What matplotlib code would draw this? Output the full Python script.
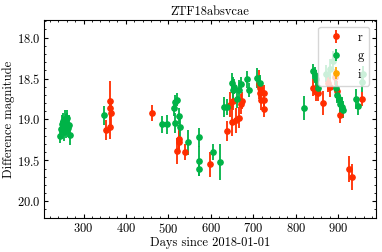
import matplotlib
matplotlib.use("Agg")
import matplotlib.pyplot as plt
from matplotlib.ticker import MultipleLocator

plt.rcParams['font.family'] = 'serif'
plt.rcParams['font.serif'] = ['cmr10', 'DejaVu Serif']
plt.rcParams['axes.formatter.use_mathtext'] = True
plt.rcParams['font.size'] = 9

title = "ZTF18absvcae"

days_r = [352, 362, 363, 364, 363, 462, 520, 524, 526, 539, 597, 639, 646, 649, 653, 659, 665, 670, 674,
          714, 715, 715, 717, 724, 725, 726, 841, 847, 853, 865, 875, 880, 891, 896, 904, 924, 933, 956]
mag_r = [19.13, 18.77, 18.86, 18.92, 19.09, 18.92, 19.39, 19.24, 19.27, 19.40, 19.55, 19.14, 18.82, 19.03,
         18.77, 19.01, 18.98, 18.81, 18.77, 18.57, 18.62, 18.68, 18.76, 18.68, 18.76, 18.87, 18.61, 18.66,
         18.68, 18.80, 18.56, 18.60, 18.48, 18.65, 18.94, 19.61, 19.70, 18.75]
err_r = [0.12, 0.24, 0.12, 0.15, 0.15, 0.10, 0.16, 0.13, 0.13, 0.10, 0.15, 0.12, 0.15, 0.17, 0.12, 0.15,
         0.13, 0.12, 0.10, 0.18, 0.12, 0.12, 0.12, 0.10, 0.12, 0.10, 0.10, 0.12, 0.10, 0.15, 0.10, 0.12,
         0.10, 0.12, 0.10, 0.16, 0.16, 0.08]

days_g = [245, 248, 250, 252, 254, 256, 258, 260, 262, 264, 266, 269, 348, 486, 496, 513, 515, 519, 516,
          524, 527, 545, 572, 573, 572, 604, 622, 630, 637, 649, 651, 655, 661, 666, 670, 684, 690, 709,
          715, 819, 841, 844, 847, 853, 871, 880, 888, 895, 898, 902, 904, 908, 912, 942, 946, 956, 958]
mag_g = [19.20, 19.12, 19.05, 19.02, 19.15, 19.00, 19.08, 18.98, 19.05, 19.10, 19.07, 19.19, 18.95, 19.06,
         19.06, 18.86, 18.79, 18.76, 19.04, 18.96, 19.09, 19.28, 19.22, 19.51, 19.60, 19.40, 19.52, 18.85,
         18.85, 18.55, 18.64, 18.60, 18.75, 18.64, 18.57, 18.51, 18.64, 18.49, 18.56, 18.86, 18.41, 18.46,
         18.51, 18.61, 18.44, 18.38, 18.28, 18.62, 18.70, 18.75, 18.81, 18.85, 18.88, 18.75, 18.84, 18.54,
         18.45]
err_g = [0.09, 0.10, 0.11, 0.10, 0.11, 0.11, 0.15, 0.10, 0.13, 0.11, 0.13, 0.12, 0.12, 0.10, 0.12, 0.10,
         0.09, 0.08, 0.12, 0.10, 0.12, 0.15, 0.12, 0.18, 0.09, 0.10, 0.22, 0.12, 0.10, 0.12, 0.16, 0.09,
         0.11, 0.12, 0.09, 0.10, 0.09, 0.12, 0.10, 0.15, 0.09, 0.10, 0.12, 0.10, 0.10, 0.12, 0.12, 0.12,
         0.10, 0.10, 0.11, 0.12, 0.10, 0.12, 0.10, 0.12, 0.10]

days_i = []
mag_i = []
err_i = []

col_r = '#ff2d00'
col_g = '#00b347'
col_i = '#ffa500'

fig = plt.figure(figsize=(3.82, 2.52), dpi=100)
ax = fig.add_axes([0.1152, 0.133, 0.8683, 0.786])

for d, m, e, c, lab in [(days_r, mag_r, err_r, col_r, 'r'),
                        (days_g, mag_g, err_g, col_g, 'g'),
                        (days_i, mag_i, err_i, col_i, 'i')]:
    ax.errorbar(d, m, yerr=e, fmt='o', color=c, ms=3.8, elinewidth=1.3,
                capsize=0, label=lab, ecolor=c)

ax.set_xlim(207, 988)
ax.set_ylim(20.21, 17.79)
ax.xaxis.set_major_locator(MultipleLocator(100))
ax.xaxis.set_minor_locator(MultipleLocator(20))
ax.yaxis.set_major_locator(MultipleLocator(0.5))
ax.yaxis.set_minor_locator(MultipleLocator(0.1))
ax.tick_params(which='both', direction='in', top=True, right=True)
ax.tick_params(which='major', length=3, pad=2.5)
ax.tick_params(which='minor', length=1.5)

ax.set_xlabel('Days since 2018-01-01', labelpad=1)
ax.set_ylabel('Difference magnitude', labelpad=1)
ax.set_title(title, fontsize=9, pad=4)
ax.legend(loc='upper right')

fig.savefig('out.png', dpi=100)
